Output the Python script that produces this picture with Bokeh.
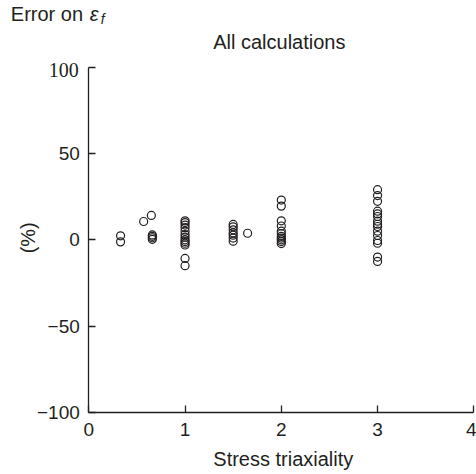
from math import pi

from bokeh.embed import file_html
from bokeh.models import CustomJSTickFormatter, FixedTicker, Label, Range1d
from bokeh.plotting import figure
from bokeh.resources import INLINE

# Error on the fracture strain (%) for each calculation, grouped by stress triaxiality
triaxiality_levels = [0.33, 0.57, 0.65, 0.66, 1.0, 1.5, 1.65, 2.0, 3.0]
errors_t033 = [2.3, -1.2]
errors_t057 = [10.6]
errors_t065 = [14.1]
errors_t066 = [2.8, 2.0, 1.2, 0.3]
errors_t100 = [11.0, 10.0, 8.5, 7.0, 5.0, 3.0, 1.5, 0.0, -1.0, -2.0, -3.0, -10.8, -15.0]
errors_t150 = [8.9, 7.5, 5.8, 4.0, 2.7, 1.0, -0.8]
errors_t165 = [3.8]
errors_t200 = [23.0, 19.5, 11.0, 8.0, 5.0, 3.5, 2.0, 1.0, 0.0, -1.0, -2.2]
errors_t300 = [29.0, 25.6, 22.3, 16.6, 15.0, 13.5, 10.8, 9.0, 7.7, 5.0, 2.5, -0.4, -2.0, -10.0, -12.5]

x_ticks = [0, 1, 2, 3, 4]
y_ticks = [-100, -50, 0, 50, 100]
x_lim = (0, 4)
y_lim = (-100, 100)

error_groups = [errors_t033, errors_t057, errors_t065, errors_t066, errors_t100,
                errors_t150, errors_t165, errors_t200, errors_t300]

xs, ys = [], []
for level, errs in zip(triaxiality_levels, error_groups):
    xs.extend([level] * len(errs))
    ys.extend(errs)

INK = "#231f20"
SANS = "Liberation Sans"

# Canvas size and where the axis box sits on it (pixels from the top-left corner).
W, H = 476, 474
BOX_LEFT, BOX_RIGHT, BOX_TOP, BOX_BOTTOM = 88.3, 473.3, 66.6, 412.0

# The plotting frame fills the whole canvas; the ranges are widened so that the
# axis box lands at the pixel positions above, and the axes are pinned to it.
kx = (x_lim[1] - x_lim[0]) / (BOX_RIGHT - BOX_LEFT)
ky = (y_lim[1] - y_lim[0]) / (BOX_BOTTOM - BOX_TOP)
x_range = Range1d(x_lim[0] - BOX_LEFT * kx, x_lim[1] + (W - BOX_RIGHT) * kx)
y_range = Range1d(y_lim[0] - (H - BOX_BOTTOM) * ky, y_lim[1] + BOX_TOP * ky)

p = figure(width=W, height=H, output_backend="svg", toolbar_location=None,
           x_range=x_range, y_range=y_range, min_border=0)
p.title = None
p.outline_line_color = None
p.background_fill_color = "white"
p.border_fill_color = "white"
p.xgrid.visible = False
p.ygrid.visible = False

for ax in (p.xaxis[0], p.yaxis[0]):
    ax.axis_line_color = INK
    ax.axis_line_width = 1.3
    ax.major_tick_line_color = INK
    ax.major_tick_line_width = 1.3
    ax.major_tick_in = 7
    ax.major_tick_out = 0
    ax.minor_tick_line_color = None
    ax.major_label_text_font = SANS
    ax.major_label_text_font_size = "19px"
    ax.major_label_text_color = INK

p.xaxis.fixed_location = y_lim[0]
p.yaxis.fixed_location = x_lim[0]
p.xaxis.bounds = x_lim
p.yaxis.bounds = y_lim
p.xaxis.ticker = FixedTicker(ticks=x_ticks)
p.yaxis.ticker = FixedTicker(ticks=y_ticks)
p.xaxis.major_label_standoff = 10
p.yaxis.major_label_standoff = 9
# the top label is set separately in a serif face
p.yaxis.formatter = CustomJSTickFormatter(code="""
    if (tick == 100) return "";
    return tick < 0 ? "\\u2212" + Math.abs(tick) : String(tick);
""")

p.scatter(xs, ys, marker="circle", size=8, fill_color=None,
          line_color=INK, line_width=1.2)


def add_text(**kw):
    kw.setdefault("text_font", SANS)
    kw.setdefault("text_color", INK)
    p.add_layout(Label(**kw))


add_text(x=0, y=100, x_offset=-10, y_offset=-3, text="100",
         text_align="right", text_baseline="middle",
         text_font="Liberation Serif", text_font_size="20px")

# axis titles
add_text(x=0, y=0, x_offset=-61, y_offset=2, text="(%)", angle=pi / 2,
         text_align="center", text_baseline="middle", text_font_size="20px")
add_text(x=2, y=-100, x_offset=2, y_offset=-46, text="Stress triaxiality",
         text_align="center", text_baseline="alphabetic", text_font_size="20px")

# headings
add_text(x=2, y=100, x_offset=-2, y_offset=25, text="All calculations",
         text_align="center", text_baseline="alphabetic", text_font_size="20px")
add_text(x=0, y=100, x_offset=-78, y_offset=53, text="Error on",
         text_align="left", text_baseline="alphabetic", text_font_size="20px")
add_text(x=0, y=100, x_offset=1, y_offset=53, text="\u03b5",
         text_align="left", text_baseline="alphabetic", text_font_style="italic",
         text_font_size="20px")
add_text(x=0, y=100, x_offset=12, y_offset=48, text="f",
         text_align="left", text_baseline="alphabetic", text_font_style="italic",
         text_font_size="14px")

open("out.html", "w").write(file_html(p, INLINE))
